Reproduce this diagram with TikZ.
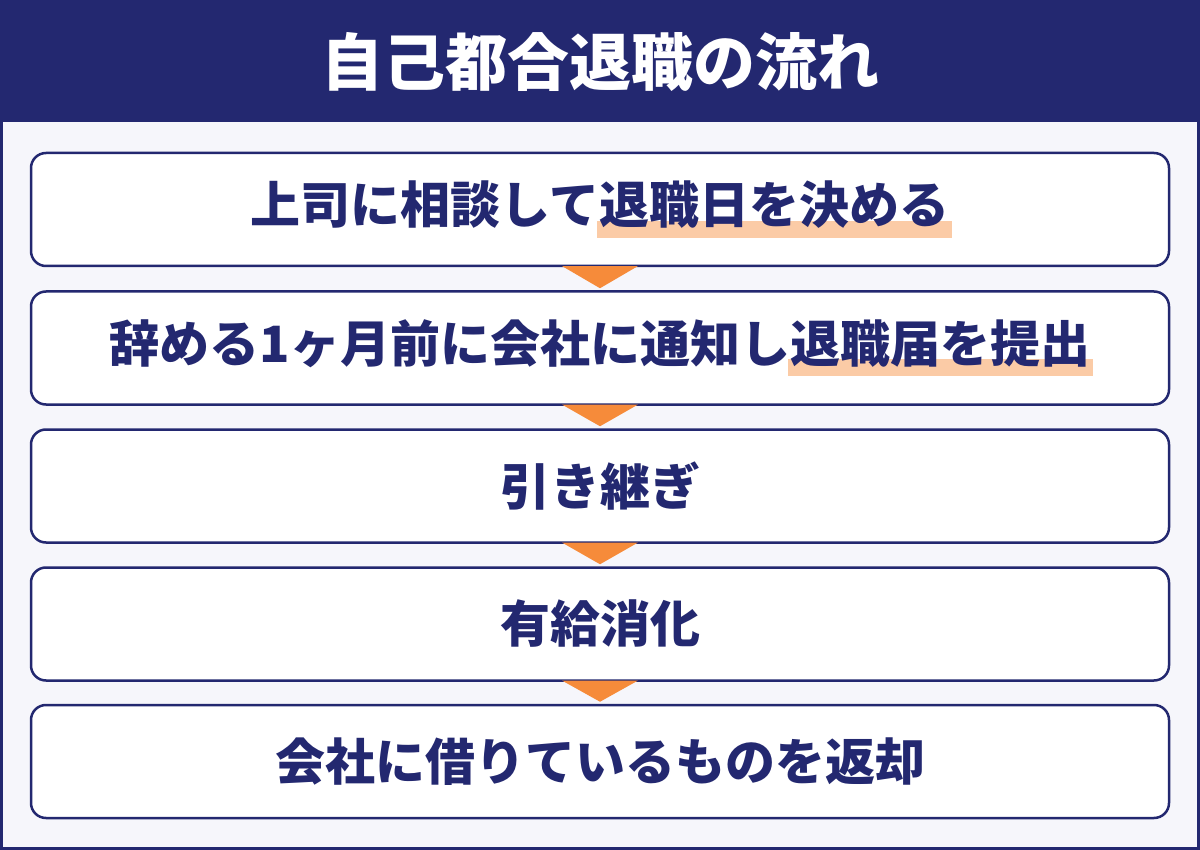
\documentclass[tikz,border=0pt]{standalone}
\usepackage{fontspec}
\setmainfont{Noto Sans CJK JP}
\definecolor{navy}{HTML}{232870}
\definecolor{bgc}{HTML}{F6F6FB}
\definecolor{orangec}{HTML}{F68B3A}
\definecolor{hlc}{HTML}{FBCBA6}
\newcommand\hlmark[1]{\setbox0\hbox{#1}\rlap{\kern-0.05em\color{hlc}\rule[-0.28em]{\dimexpr\wd0+0.1em\relax}{0.34em}}\box0}
\tikzset{
  stepbox/.style={draw=navy, line width=2.5pt, fill=white, rounded corners=15pt,
    minimum width=1138pt, minimum height=113pt, inner sep=0pt,
    text=navy, font=\fontsize{50}{60}\selectfont\bfseries},
  tri/.style={fill=orangec},
  titletext/.style={text=white, font=\fontsize{62}{70}\selectfont\bfseries, inner sep=0pt}
}
\begin{document}
\begin{tikzpicture}[x=1pt,y=-1pt]
\useasboundingbox (0,0) rectangle (1200,850);
\fill[navy] (0,0) rectangle (1200,850);
\fill[bgc] (3,122) rectangle (1197,847);
\node[titletext] (title) at (600,62) {自己都合退職の流れ};
\coordinate (c1) at (600,209.5);
\coordinate (c2) at (600,348);
\coordinate (c3) at (600,486);
\coordinate (c4) at (600,624);
\coordinate (c5) at (600,761.5);
% boxes
\node[stepbox] (b1) at (c1) {上司に相談して\hlmark{退職日を決める}};
\node[stepbox] (b2) at (c2) {辞める1ヶ月前に会社に通知し\hlmark{退職届を提出}};
\node[stepbox] (b3) at (c3) {引き継ぎ};
\node[stepbox] (b4) at (c4) {有給消化};
\node[stepbox] (b5) at (c5) {会社に借りているものを返却};
% arrows
\foreach \a/\b in {b1/b2,b2/b3,b3/b4,b4/b5}{
  \fill[tri] ([xshift=-38pt,yshift=1.2pt]\a.south) -- ([xshift=38pt,yshift=1.2pt]\a.south) -- ([yshift=2pt]\b.north) -- cycle;
}
\end{tikzpicture}
\end{document}
